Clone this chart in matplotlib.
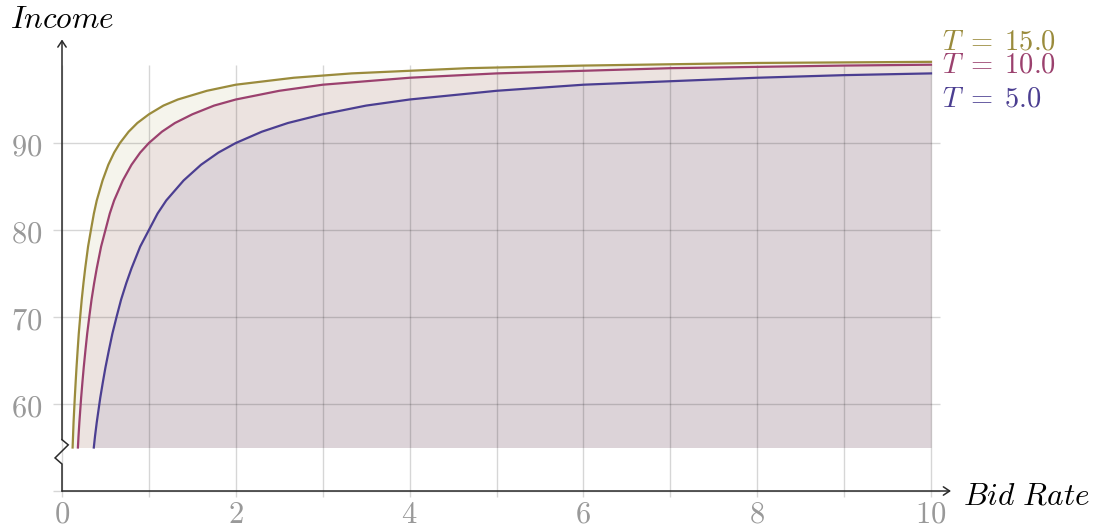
import matplotlib
matplotlib.use("Agg")
import matplotlib.pyplot as plt
from matplotlib.patches import FancyArrowPatch

plt.rcParams['mathtext.fontset'] = 'cm'
plt.rcParams['font.family'] = ['DejaVu Serif']

# ---- data ----
x_t5 = [0.366, 0.38, 0.40, 0.42, 0.44, 0.47, 0.50, 0.54, 0.58, 0.63, 0.68, 0.74, 0.80,
        0.90, 1.0, 1.1, 1.2, 1.4, 1.6, 1.8, 2.0, 2.3, 2.6, 3.0, 3.5, 4.0, 5.0, 6.0, 7.0,
        8.0, 9.0, 10.0]
y_t5 = [55.0, 56.3, 57.9, 59.3, 60.7, 62.5, 64.2, 66.2, 68.1, 70.1, 72.0, 73.9, 75.6,
        78.1, 80.0, 81.9, 83.4, 85.7, 87.5, 88.9, 90.0, 91.3, 92.3, 93.3, 94.3, 95.0, 96.0,
        96.7, 97.1, 97.5, 97.8, 98.0]

x_t10 = [0.183, 0.19, 0.20, 0.21, 0.22, 0.235, 0.25, 0.27, 0.29, 0.315, 0.34, 0.37, 0.40,
         0.45, 0.50, 0.55, 0.60, 0.70, 0.80, 0.90, 1.0, 1.15, 1.3, 1.5, 1.75, 2.0, 2.5, 3.0,
         3.5, 4.0, 5.0, 6.0, 7.0, 8.0, 9.0, 10.0]
y_t10 = [55.0, 56.3, 57.9, 59.3, 60.7, 62.5, 64.2, 66.2, 68.1, 70.1, 72.0, 73.9, 75.6,
         78.1, 80.0, 81.9, 83.4, 85.7, 87.5, 88.9, 90.0, 91.3, 92.3, 93.3, 94.3, 95.0, 96.0,
         96.7, 97.1, 97.5, 98.0, 98.3, 98.6, 98.75, 98.9, 99.0]

x_t15 = [0.122, 0.127, 0.133, 0.14, 0.147, 0.157, 0.167, 0.18, 0.193, 0.21, 0.227, 0.247,
         0.267, 0.30, 0.333, 0.367, 0.40, 0.467, 0.533, 0.60, 0.667, 0.767, 0.867, 1.0,
         1.167, 1.333, 1.667, 2.0, 2.333, 2.667, 3.333, 4.0, 4.667, 5.333, 6.0, 6.667, 8.0, 10.0]
y_t15 = [55.0, 56.3, 57.9, 59.3, 60.7, 62.5, 64.2, 66.2, 68.1, 70.1, 72.0, 73.9,
         75.6, 78.1, 80.0, 81.9, 83.4, 85.7, 87.5, 88.9, 90.0, 91.3, 92.3, 93.3,
         94.3, 95.0, 96.0, 96.7, 97.1, 97.5, 98.0, 98.3, 98.6, 98.75, 98.9, 99.0, 99.2, 99.33]

series_labels = [r"$T\;=\;15.0$", r"$T\;=\;10.0$", r"$T\;=\;5.0$"]
x_tick_values = [0, 2, 4, 6, 8, 10]
y_tick_values = [60, 70, 80, 90]
x_grid_values = [0, 1, 2, 3, 4, 5, 6, 7, 8, 9, 10]
y_grid_values = [50, 60, 70, 80, 90]
fill_floor = 55

# ---- style ----
c15 = '#9a8b3c'
c10 = '#9b416e'
c5 = '#4b3e91'
tick_color = '#999999'
axis_color = '#2b2b2b'

fig = plt.figure(figsize=(10.94, 5.31), dpi=100)
# axes mapping: x 0->62px, 10->931px ; y 50->491px, 90->143px
xl, xr = -0.5, 10.5
yb, yt = 48.0, 102.5
pxu = 86.9
pyu = 8.7
left_px = 62 + xl * pxu
right_px = 62 + xr * pxu
bot_px = 491 + (50 - yb) * pyu
top_px = 491 - (yt - 50) * pyu
ax = fig.add_axes([left_px / 1094, 1 - bot_px / 531,
                   (right_px - left_px) / 1094, (bot_px - top_px) / 531])
ax.set_xlim(xl, xr)
ax.set_ylim(yb, yt)
ax.axis('off')

# fills (stacked translucent)
for xs, ys, c in [(x_t15, y_t15, c15), (x_t10, y_t10, c10), (x_t5, y_t5, c5)]:
    ax.fill_between(xs, fill_floor, ys, color=c, alpha=0.095, lw=0, zorder=1)

# grid
for gx in x_grid_values:
    ax.plot([gx, gx], [49.3, 99.0], color='black', alpha=0.16, lw=1.0, zorder=2,
            solid_capstyle='butt')
for gy in y_grid_values:
    ax.plot([-0.1, 10.1], [gy, gy], color='black', alpha=0.16, lw=1.0, zorder=2,
            solid_capstyle='butt')

# curves
for xs, ys, c in [(x_t15, y_t15, c15), (x_t10, y_t10, c10), (x_t5, y_t5, c5)]:
    ax.plot(xs, ys, color=c, lw=1.6, zorder=3, solid_joinstyle='round')

# axes with break
ax.plot([0, 0, -0.08, 0.072, 0], [50, 53.1, 53.8, 55.3, 55.9], color=axis_color, lw=1.1,
        zorder=4, solid_joinstyle='miter')
ax.add_patch(FancyArrowPatch((0, 55.9), (0, 101.9), arrowstyle='->,head_length=0.45,head_width=0.3',
                             mutation_scale=10, color=axis_color, lw=1.1, zorder=4,
                             shrinkA=0, shrinkB=0))
ax.add_patch(FancyArrowPatch((0, 50), (10.23, 50), arrowstyle='->,head_length=0.45,head_width=0.3',
                             mutation_scale=10, color=axis_color, lw=1.1, zorder=4,
                             shrinkA=0, shrinkB=0))

# tick labels
for v in x_tick_values:
    ax.text(v, 46.35, f"${v}$", ha='center', va='baseline', fontsize=22, color=tick_color)
for v in y_tick_values:
    ax.text(-0.23, v - 1.38, f"${v}$", ha='right', va='baseline', fontsize=22, color=tick_color)

# axis labels
ax.text(-0.60, 103.2, r"$Income$", ha='left', va='baseline', fontsize=22.5, color='black')
ax.text(10.37, 48.5, r"$Bid\ Rate$", ha='left', va='baseline', fontsize=22.5, color='black')

# series labels
for lab, yy, c in zip(series_labels, [100.77, 98.05, 94.17], [c15, c10, c5]):
    ax.text(10.13, yy, lab, ha='left', va='baseline', fontsize=20.5, color=c)

fig.savefig('out.png', dpi=100)
